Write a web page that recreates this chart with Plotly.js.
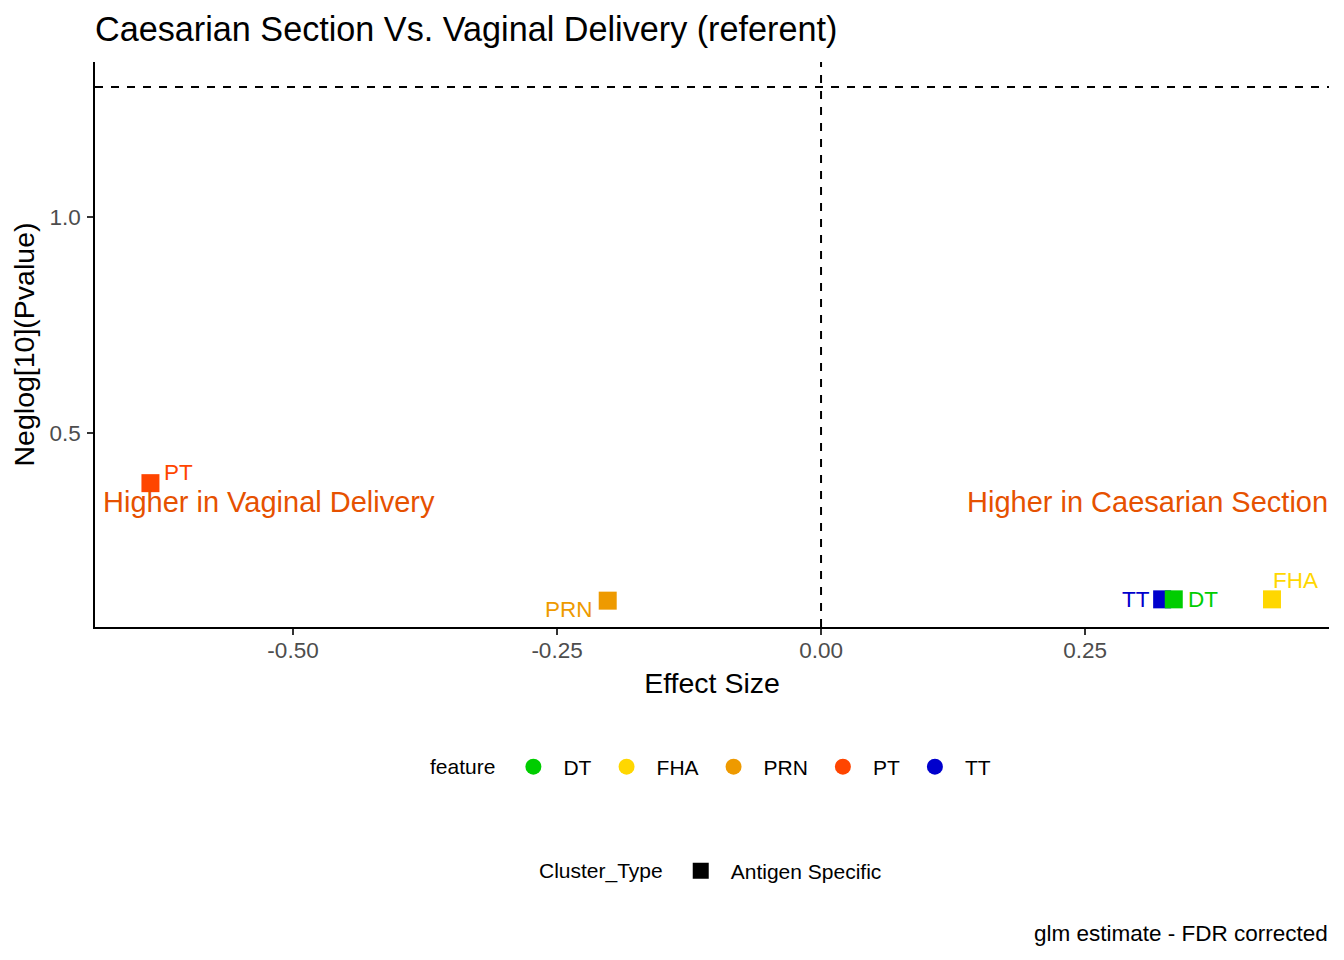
<!DOCTYPE html>
<html>
<head>
<meta charset="utf-8">
<script src="https://cdn.plot.ly/plotly-3.0.1.min.js"></script>
<style>html,body{margin:0;padding:0;background:#fff;}#chart{width:1344px;height:960px;}</style>
</head>
<body>
<div id="chart"></div>
<script>
// Data (drawn in row order)
const features = ['PT', 'PRN', 'TT', 'DT', 'FHA'];
const effectSize = [-0.635, -0.202, 0.323, 0.334, 0.427];
const neglogP = [0.384, 0.112, 0.115, 0.115, 0.115];
const legendFeatures = ['DT', 'FHA', 'PRN', 'PT', 'TT'];
const clusterTypes = ['Antigen Specific'];
const xTicks = [-0.50, -0.25, 0.00, 0.25];
const xTickLabels = ['-0.50', '-0.25', '0.00', '0.25'];
const yTicks = [0.5, 1.0];
const yTickLabels = ['0.5', '1.0'];
const pThreshold = 0.05;

// Styles
const colors = {DT: '#00CD00', FHA: '#FFD700', PRN: '#EE9A00', PT: '#FF4500', TT: '#0000CD'};
const labelStyle = {
  PT:  {xanchor: 'left',  xshift: 12,  yshift: 11},
  PRN: {xanchor: 'right', xshift: -13, yshift: -9},
  TT:  {xanchor: 'right', xshift: -10, yshift: 0},
  DT:  {xanchor: 'left',  xshift: 12,  yshift: 0},
  FHA: {xanchor: 'left',  xshift: -1,  yshift: 19}
};
const FONT = 'Arial, "Liberation Sans", sans-serif';

const traces = [];
features.forEach((f, i) => {
  traces.push({
    type: 'scatter', mode: 'markers',
    x: [effectSize[i]], y: [neglogP[i]],
    marker: {symbol: 'square', size: 18, color: colors[f]},
    showlegend: false, hoverinfo: 'x+y', name: f
  });
});
legendFeatures.forEach(f => {
  traces.push({
    type: 'scatter', mode: 'markers', x: [null], y: [null], name: f,
    marker: {symbol: 'circle', size: 16, color: colors[f]},
    legend: 'legend', showlegend: true
  });
});
clusterTypes.forEach(c => {
  traces.push({
    type: 'scatter', mode: 'markers', x: [null], y: [null], name: c,
    marker: {symbol: 'square', size: 16, color: '#000000'},
    legend: 'legend2', showlegend: true
  });
});

const annotations = features.map((f, i) => Object.assign({
  x: effectSize[i], y: neglogP[i], xref: 'x', yref: 'y',
  text: f, showarrow: false, yanchor: 'middle',
  font: {family: FONT, size: 22.5, color: colors[f]}
}, labelStyle[f]));

annotations.push({
  xref: 'paper', yref: 'y', x: 0, y: 0.34, xanchor: 'left', yanchor: 'middle', xshift: 6,
  text: 'Higher in Vaginal Delivery', showarrow: false,
  font: {family: FONT, size: 29, color: '#E65100'}
});
annotations.push({
  xref: 'paper', yref: 'y', x: 1, y: 0.34, xanchor: 'right', yanchor: 'middle', xshift: 1,
  text: 'Higher in Caesarian Section', showarrow: false,
  font: {family: FONT, size: 29, color: '#E65100'}
});
annotations.push({
  xref: 'paper', yref: 'paper', x: 1, y: (627 - 933) / 565, xanchor: 'right', yanchor: 'middle', xshift: 1,
  text: 'glm estimate - FDR corrected', showarrow: false,
  font: {family: FONT, size: 22.5, color: '#000000'}
});

const layout = {
  width: 1344, height: 960,
  paper_bgcolor: '#ffffff', plot_bgcolor: '#ffffff',
  margin: {l: 95, r: 15, t: 62, b: 333},
  font: {family: FONT, color: '#000000'},
  title: {
    text: 'Caesarian Section Vs. Vaginal Delivery (referent)',
    xref: 'paper', x: 0, xanchor: 'left',
    yref: 'container', y: 1 - 29.5 / 960, yanchor: 'middle',
    font: {family: FONT, size: 34.2, color: '#000000'}
  },
  xaxis: {
    range: [-0.6875, 0.481], tickvals: xTicks, ticktext: xTickLabels,
    showgrid: false, zeroline: false, showline: true, linecolor: '#000000', linewidth: 1.8,
    ticks: 'outside', ticklen: 6, tickwidth: 1.5, tickcolor: '#333333',
    ticklabelstandoff: -4,
    tickfont: {family: FONT, size: 22.5, color: '#4D4D4D'},
    title: {text: 'Effect Size', standoff: 11, font: {family: FONT, size: 28.5, color: '#000000'}}
  },
  yaxis: {
    range: [0.051, 1.359], tickvals: yTicks, ticktext: yTickLabels,
    showgrid: false, zeroline: false, showline: true, linecolor: '#000000', linewidth: 1.8,
    ticks: 'outside', ticklen: 6, tickwidth: 1.5, tickcolor: '#333333',
    ticklabelstandoff: 2,
    tickfont: {family: FONT, size: 22.5, color: '#4D4D4D'},
    title: {text: 'Neglog[10](Pvalue)', standoff: 6, font: {family: FONT, size: 28.5, color: '#000000'}}
  },
  shapes: [
    {type: 'line', xref: 'paper', x0: 0, x1: 1, yref: 'y', y0: -Math.log10(pThreshold), y1: -Math.log10(pThreshold),
     line: {color: '#000000', width: 2, dash: '8px,8px'}},
    {type: 'line', xref: 'x', x0: 0, x1: 0, yref: 'paper', y0: 0, y1: 1,
     line: {color: '#000000', width: 2, dash: '8px,8px'}}
  ],
  annotations: annotations,
  legend: {
    orientation: 'h', x: 0.5, xanchor: 'center', y: (627 - 767) / 565, yanchor: 'middle',
    title: {text: 'feature', side: 'left', font: {family: FONT, size: 21, color: '#000000'}},
    font: {family: FONT, size: 21, color: '#000000'},
    itemsizing: 'trace', itemwidth: 50, bgcolor: 'rgba(0,0,0,0)'
  },
  legend2: {
    orientation: 'h', x: 0.5, xanchor: 'center', y: (627 - 871) / 565, yanchor: 'middle',
    title: {text: 'Cluster_Type', side: 'left', font: {family: FONT, size: 21, color: '#000000'}},
    font: {family: FONT, size: 21, color: '#000000'},
    itemsizing: 'trace', itemwidth: 50, bgcolor: 'rgba(0,0,0,0)'
  },
  showlegend: true
};

Plotly.newPlot('chart', traces, layout, {displayModeBar: false, staticPlot: true});
</script>
</body>
</html>
